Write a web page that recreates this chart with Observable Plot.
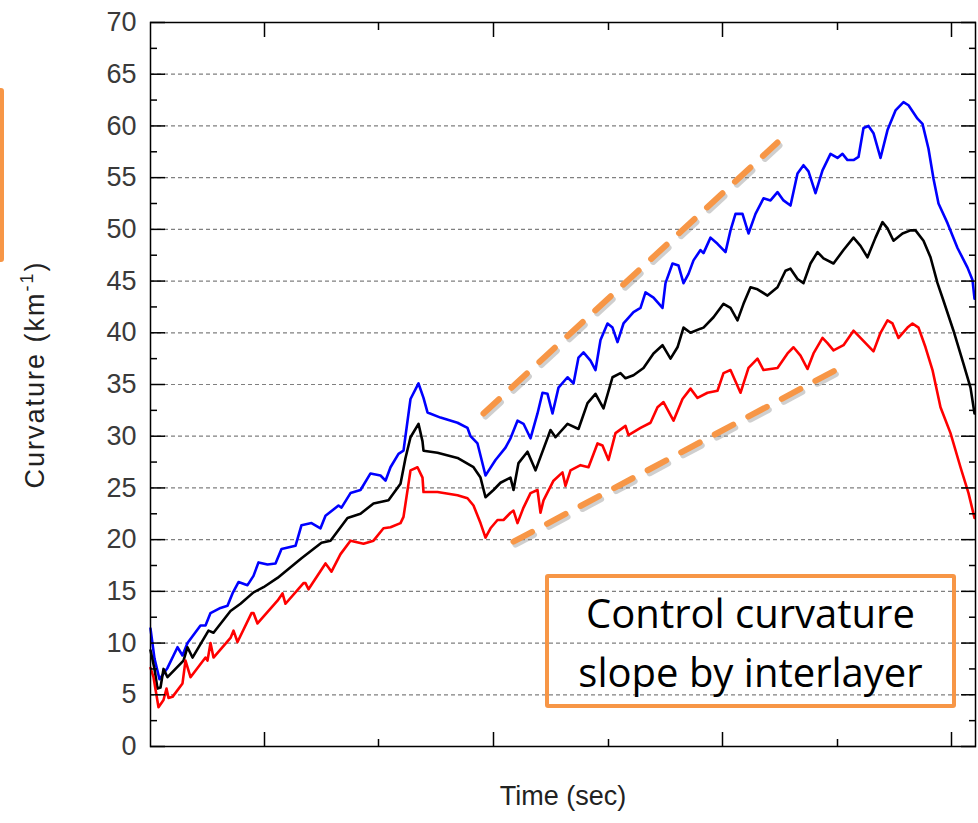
<!DOCTYPE html>
<html><head><meta charset="utf-8">
<script src="https://cdn.jsdelivr.net/npm/d3@7"></script>
<script src="https://cdn.jsdelivr.net/npm/@observablehq/plot@0.6"></script>
<style>
body{margin:0;background:#fff;}
#wrap{position:relative;width:978px;height:823px;overflow:hidden;background:#fff;}
#note{position:absolute;left:545px;top:574px;width:411px;height:134px;box-sizing:border-box;border:4px solid #F79646;border-radius:3px;font-family:"Open Sans",sans-serif;font-size:40px;text-align:center;line-height:59px;color:#000;padding-top:5px;}
#bar{position:absolute;left:0;top:88px;width:4px;height:174px;background:#F79646;border-radius:0 3px 3px 0;}
</style></head>
<body>
<div id="wrap"><div id="bar"></div><div id="note">Control curvature<br>slope by interlayer</div></div>
<script>
// Time is in arbitrary units (no tick labels in the original)
const seriesBlue = [[0,11.4],[4,8.5],[9,6.5],[17,7.6],[27,9.6],[32,8.8],[37,10.0],[50,11.7],[55,11.7],[60,12.9],[70,13.4],[77,13.6],[82,14.8],[88,15.9],[97,15.6],[103,16.5],[108,17.8],[117,17.6],[125,17.7],[131,19.1],[145,19.4],[151,21.4],[161,21.6],[170,21.1],[175,22.3],[188,23.3],[191,23.1],[200,24.5],[210,24.8],[220,26.4],[230,26.2],[235,25.7],[240,27.0],[248,28.3],[253,28.6],[260,33.6],[268,35.1],[273,33.7],[277,32.3],[290,31.8],[307,31.3],[317,30.8],[320,30.0],[327,29.3],[335,26.2],[337,26.5],[345,27.7],[355,28.9],[360,29.8],[367,31.5],[373,31.2],[380,29.8],[387,32.2],[392,34.2],[397,34.1],[402,32.2],[408,34.7],[417,35.7],[423,35.1],[428,37.6],[433,38.1],[440,37.3],[445,36.4],[450,39.3],[457,40.9],[462,40.5],[467,39.1],[473,40.9],[483,42.0],[490,42.4],[495,43.9],[503,43.4],[512,42.4],[515,44.8],[522,46.7],[528,46.5],[533,44.8],[538,45.7],[543,47.0],[550,48.0],[553,47.7],[560,49.2],[567,48.6],[575,47.8],[580,49.9],[585,51.5],[592,51.5],[598,49.6],[605,51.5],[613,53.0],[620,52.8],[627,53.6],[633,52.8],[640,52.3],[647,55.4],[653,56.2],[658,55.6],[665,53.5],[672,55.7],[680,57.3],[687,56.9],[692,57.3],[697,56.7],[703,56.7],[708,57.0],[713,59.8],[718,60.0],[723,59.3],[730,56.9],[737,59.6],[745,61.5],[753,62.3],[758,62.0],[767,60.7],[772,60.2],[778,57.8],[783,54.9],[788,52.5],[797,50.6],[807,48.2],[817,46.3],[822,45.1],[824,43.3]];
const seriesBlack = [[0,9.3],[4,7.5],[7,5.6],[10,5.7],[13,7.5],[17,6.7],[33,8.3],[37,9.6],[42,8.6],[58,11.2],[63,11.0],[80,13.1],[90,13.8],[103,14.9],[113,15.4],[127,16.3],[151,18.2],[171,19.7],[180,19.9],[197,22.1],[210,22.5],[223,23.5],[238,23.8],[250,25.4],[255,27.9],[260,29.9],[268,31.2],[272,29.5],[273,28.6],[287,28.4],[307,27.9],[323,27.0],[330,26.0],[335,24.1],[343,24.8],[350,25.5],[360,26.0],[363,24.8],[368,27.4],[377,28.5],[385,26.7],[400,30.6],[405,29.9],[417,31.2],[428,30.7],[437,33.2],[445,34.1],[453,32.7],[462,35.7],[470,36.1],[475,35.6],[483,35.9],[493,36.6],[503,38.0],[512,38.8],[520,37.5],[527,38.6],[533,40.5],[540,40.0],[550,40.4],[553,40.5],[563,41.5],[573,42.8],[580,42.4],[587,41.2],[593,42.8],[600,44.4],[607,44.2],[617,43.6],[627,44.4],[635,46.0],[640,46.2],[647,45.2],[653,44.8],[660,46.7],[667,47.8],[673,47.2],[683,46.7],[693,48.0],[703,49.2],[710,48.4],[717,47.3],[725,49.2],[732,50.7],[737,50.1],[743,48.9],[752,49.6],[760,49.9],[765,49.9],[773,48.9],[780,47.3],[787,44.8],[793,43.1],[803,40.2],[813,37.0],[820,34.7],[824,32.2]];
const seriesRed = [[0,7.6],[3,6.7],[8,3.8],[13,4.5],[16,5.6],[18,4.7],[22,4.8],[32,6.1],[35,8.3],[40,6.7],[55,8.6],[57,8.3],[60,10.0],[63,8.6],[80,10.5],[83,11.2],[87,10.1],[101,12.9],[103,12.9],[107,11.9],[127,14.1],[132,14.8],[135,13.8],[153,15.8],[155,15.8],[158,15.2],[175,17.7],[178,17.3],[181,16.9],[190,18.6],[200,19.9],[213,19.6],[223,19.9],[233,21.1],[240,21.2],[250,21.6],[253,22.2],[260,26.7],[267,27.0],[272,26.0],[273,24.6],[287,24.6],[307,24.3],[317,24.0],[323,23.3],[330,21.6],[335,20.2],[340,21.1],[347,21.9],[353,21.9],[360,22.6],[363,22.8],[367,21.6],[373,23.1],[380,24.5],[387,24.8],[390,22.6],[393,23.8],[403,25.7],[412,26.5],[415,25.2],[420,26.7],[430,27.2],[438,27.0],[447,29.3],[452,29.1],[458,27.7],[465,30.3],[475,31.0],[478,30.1],[490,30.8],[500,31.3],[507,32.8],[513,33.3],[523,31.5],[532,33.6],[540,34.6],[547,33.7],[557,34.2],[567,34.4],[573,36.1],[580,36.4],[590,34.2],[598,36.6],[607,37.5],[613,36.4],[627,36.6],[637,38.0],[643,38.6],[650,37.8],[657,36.5],[663,38.0],[672,39.5],[677,39.0],[683,38.3],[693,38.8],[703,40.2],[710,39.5],[723,38.2],[730,40.0],[737,41.2],[742,40.9],[748,39.5],[757,40.5],[762,40.9],[768,40.5],[775,38.6],[782,36.4],[790,32.8],[800,30.3],[810,27.0],[818,24.5],[824,22.1]];
const guideUpper = [[333,32.2],[627,58.4]];
const guideLower = [[363,19.8],[695,36.9]];
const yTickLabels = [0,5,10,15,20,25,30,35,40,45,50,55,60,65,70];
const yMinorTicks = [2.5,7.5,12.5,17.5,22.5,27.5,32.5,37.5,42.5,47.5,52.5,57.5,62.5,67.5];
const gridValues = [5,10,15,20,25,30,35,40,45,50,55,60,65];
const xMajorTicks = [114,343,572,801];
const xMinorTicks = [228,458,687];
const xLabel = "Time (sec)";
const yLabel = "Curvature (km-1)";

const orange = "#F79646";
const lineOpts = {x: d => d[0], y: d => d[1], strokeWidth: 2.6, strokeLinejoin: "round"};
const guideOpts = {x: d => d[0], y: d => d[1], strokeWidth: 6, strokeDasharray: "21,17"};

const chart = Plot.plot({
  width: 978, height: 823,
  marginLeft: 150, marginRight: 3, marginTop: 22, marginBottom: 77,
  x: {domain: [0, 825]},
  y: {domain: [0, 70]},
  style: {fontFamily: "'Liberation Sans', Arial, sans-serif", background: "transparent", overflow: "visible"},
  marks: [
    Plot.gridY(gridValues, {stroke: "#808080", strokeOpacity: 1, strokeWidth: 1.2, strokeDasharray: "4,3"}),
    Plot.line(guideUpper, {...guideOpts, stroke: "#888", strokeOpacity: 0.4, dx: 2, dy: 3}),
    Plot.line(guideLower, {...guideOpts, stroke: "#888", strokeOpacity: 0.4, dx: 2, dy: 3}),
    Plot.line(guideUpper, {...guideOpts, stroke: orange}),
    Plot.line(guideLower, {...guideOpts, stroke: orange}),
    Plot.line(seriesBlue, {...lineOpts, stroke: "#0000ff"}),
    Plot.line(seriesBlack, {...lineOpts, stroke: "#000000"}),
    Plot.line(seriesRed, {...lineOpts, stroke: "#ff0000"}),
    Plot.frame({stroke: "#000", strokeWidth: 1.5}),
    // inward ticks: left / right
    Plot.axisY(yTickLabels, {anchor: "left", tickSize: 15, dx: 15, tickFormat: () => "", label: null, strokeWidth: 1.5}),
    Plot.axisY(yMinorTicks, {anchor: "left", tickSize: 7, dx: 7, tickFormat: () => "", label: null, strokeWidth: 1.5}),
    Plot.axisY(yTickLabels, {anchor: "right", tickSize: 15, dx: -15, tickFormat: () => "", label: null, strokeWidth: 1.5}),
    Plot.axisY(yMinorTicks, {anchor: "right", tickSize: 7, dx: -7, tickFormat: () => "", label: null, strokeWidth: 1.5}),
    // inward ticks: bottom / top
    Plot.axisX(xMajorTicks, {anchor: "bottom", tickSize: 14, dy: -14, tickFormat: () => "", label: null, strokeWidth: 1.5}),
    Plot.axisX(xMinorTicks, {anchor: "bottom", tickSize: 7, dy: -7, tickFormat: () => "", label: null, strokeWidth: 1.5}),
    Plot.axisX(xMajorTicks, {anchor: "top", tickSize: 14, dy: 14, tickFormat: () => "", label: null, strokeWidth: 1.5}),
    Plot.axisX(xMinorTicks, {anchor: "top", tickSize: 7, dy: 7, tickFormat: () => "", label: null, strokeWidth: 1.5}),
    // tick labels
    Plot.axisY(yTickLabels, {anchor: "left", tickSize: 0, tickPadding: 14, fontSize: 27, fill: "#3a3a3a", label: null}),
    Plot.text([xLabel], {text: d => d, frameAnchor: "bottom", dy: 58, fontSize: 27, fill: "#222", textAnchor: "middle"}),
    Plot.text([yLabel], {text: d => d, frameAnchor: "left", dx: -115, dy: -10, rotate: -90, fontSize: 27, fill: "#222", textAnchor: "middle"})
  ]
});
chart.style.position = "absolute";
chart.style.left = "0px";
chart.style.top = "0px";
const wrap = document.getElementById("wrap");
wrap.insertBefore(chart, wrap.firstChild);

// superscript on the y label
d3.select(chart).selectAll("text").filter(function(){ return this.textContent === yLabel; }).each(function(){
  const t = d3.select(this);
  t.text(null).attr("text-anchor", "middle").attr("letter-spacing", 2);
  t.append("tspan").text("Curvature (km");
  t.append("tspan").attr("font-size", 18).attr("dy", -11).text("-1");
  t.append("tspan").attr("dy", 11).text(")");
});
</script>
</body></html>
